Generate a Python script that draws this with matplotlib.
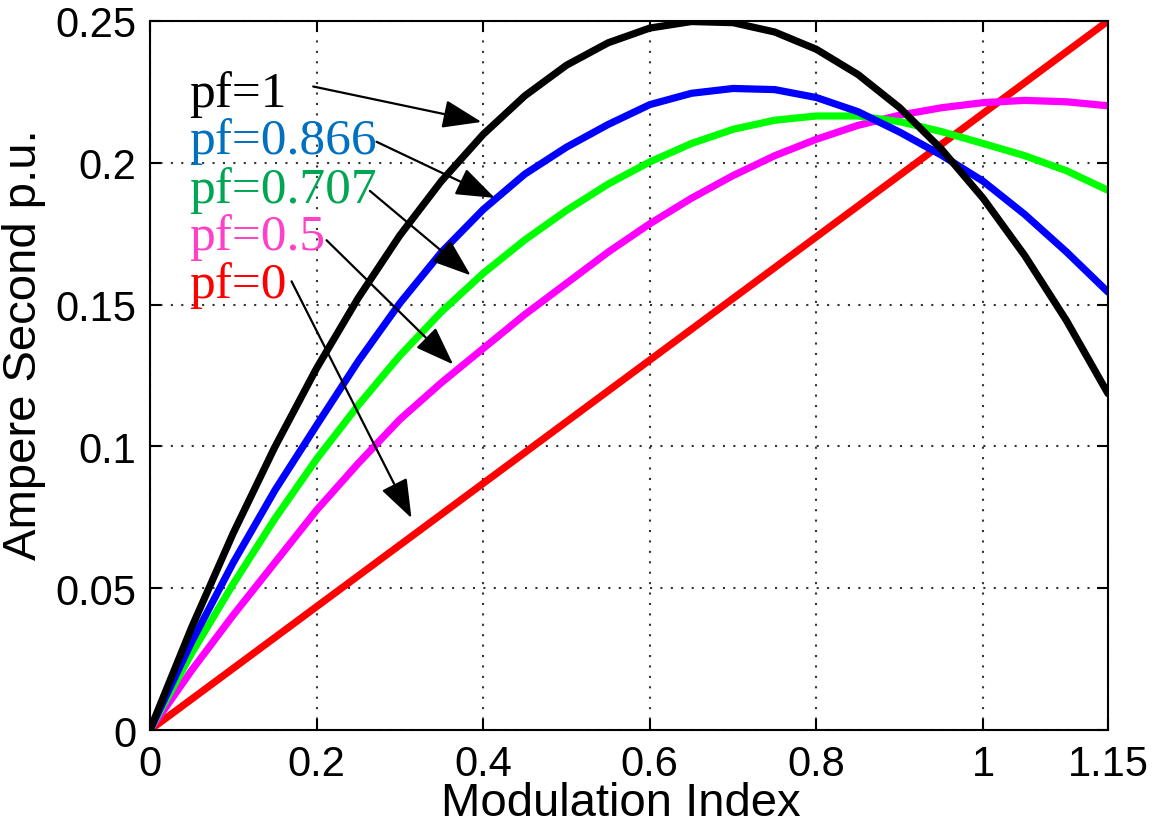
import matplotlib
matplotlib.use('Agg')
import matplotlib.pyplot as plt

# modulation index samples
m = [0, 0.05, 0.1, 0.15, 0.2, 0.25, 0.3, 0.35, 0.4, 0.45, 0.5, 0.55,
     0.6, 0.65, 0.7, 0.75, 0.8, 0.85, 0.9, 0.95, 1.0, 1.05, 1.1, 1.15]

pf_1 = [0, 0.0361, 0.0694, 0.0998, 0.1275, 0.1523, 0.1744, 0.1936, 0.2100, 0.2236,
        0.2344, 0.2423, 0.2475, 0.2498, 0.2494, 0.2461, 0.2400, 0.2311, 0.2194,
        0.2048, 0.1875, 0.1673, 0.1444, 0.1186]
pf_0866 = [0, 0.0310, 0.0590, 0.0845, 0.1074, 0.1300, 0.1505, 0.1685, 0.1835, 0.1960,
           0.2055, 0.2135, 0.2205, 0.2245, 0.2262, 0.2258, 0.2230, 0.2180, 0.2108,
           0.2027, 0.1935, 0.1818, 0.1686, 0.1544]
pf_0707 = [0, 0.0270, 0.0515, 0.0745, 0.0955, 0.1145, 0.1320, 0.1475, 0.1610, 0.1728,
           0.1832, 0.1925, 0.2003, 0.2068, 0.2118, 0.2150, 0.2165, 0.2165, 0.2145,
           0.2110, 0.2068, 0.2025, 0.1972, 0.1903]
pf_05 = [0, 0.0210, 0.0405, 0.0590, 0.0775, 0.0940, 0.1095, 0.1225, 0.1345, 0.1465,
         0.1575, 0.1685, 0.1785, 0.1875, 0.1955, 0.2025, 0.2083, 0.2132, 0.2168,
         0.2194, 0.2212, 0.2220, 0.2215, 0.2201]
m_pf0 = [0, 1.15]
pf_0 = [0, 0.25]

labels = ['pf=1', 'pf=0.866', 'pf=0.707', 'pf=0.5', 'pf=0']
label_colors = ['#000000', '#0070C0', '#00A651', '#FF40C8', '#FF0000']
label_y = [0.2244, 0.2077, 0.1905, 0.1740, 0.1570]
# arrow start / tip in data units
arrow_start = [(0.196, 0.2269), (0.272, 0.2074), (0.264, 0.1901), (0.212, 0.1727), (0.170, 0.1582)]
arrow_tip = [(0.398, 0.2144), (0.414, 0.1876), (0.385, 0.1603), (0.364, 0.1289), (0.314, 0.0747)]

xticks = [0, 0.2, 0.4, 0.6, 0.8, 1, 1.15]
xticklabels = ['0', '0.2', '0.4', '0.6', '0.8', '1', '1.15']
yticks = [0, 0.05, 0.1, 0.15, 0.2, 0.25]
yticklabels = ['0', '0.05', '0.1', '0.15', '0.2', '0.25']

plt.rcParams['font.family'] = ['Liberation Sans', 'DejaVu Sans']

fig = plt.figure(figsize=(11.53, 8.29), dpi=100)
ax = fig.add_axes([0.130, 0.1182, 0.831, 0.8553])

lw = 5.2
style = dict(lw=lw, zorder=3, solid_joinstyle='round', solid_capstyle='round')
ax.plot(m_pf0, pf_0, color='#FF0000', **style)
ax.plot(m, pf_05, color='#FF00FF', **style)
ax.plot(m, pf_0707, color='#00FF00', **style)
ax.plot(m, pf_0866, color='#0000FF', **style)
ax.plot(m, pf_1, color='#000000', **style)

ax.set_xlim(0, 1.15)
ax.set_ylim(0, 0.25)
ax.set_xticks(xticks)
ax.set_xticklabels(xticklabels)
ax.set_yticks(yticks)
ax.set_yticklabels(yticklabels)
ax.tick_params(direction='in', length=8, width=1.5, labelsize=30,
               top=True, right=True, pad=10)
for s in ax.spines.values():
    s.set_linewidth(1.5)
    s.set_zorder(4)
ax.grid(True, color='0.2', linestyle=(0, (1, 4)), linewidth=1.5)

ax.set_xlabel('Modulation Index', fontsize=34)
ax.xaxis.set_label_coords(0.4917, -0.072)
ax.set_ylabel('Ampere Second p.u.', fontsize=34)
ax.yaxis.set_label_coords(-0.108, 0.545)

for txt, c, y in zip(labels, label_colors, label_y):
    ax.text(0.047, y, txt, color=c, fontsize=37, family='Liberation Serif',
            va='center', ha='left', zorder=5)

for (x0, y0), (x1, y1) in zip(arrow_start, arrow_tip):
    ax.annotate('', xy=(x1, y1), xytext=(x0, y0),
                arrowprops=dict(arrowstyle='-|>,head_length=1.1,head_width=0.4',
                                mutation_scale=22, color='k', lw=1.6,
                                shrinkA=0, shrinkB=0), zorder=6)

fig.savefig('out.png', dpi=100)
